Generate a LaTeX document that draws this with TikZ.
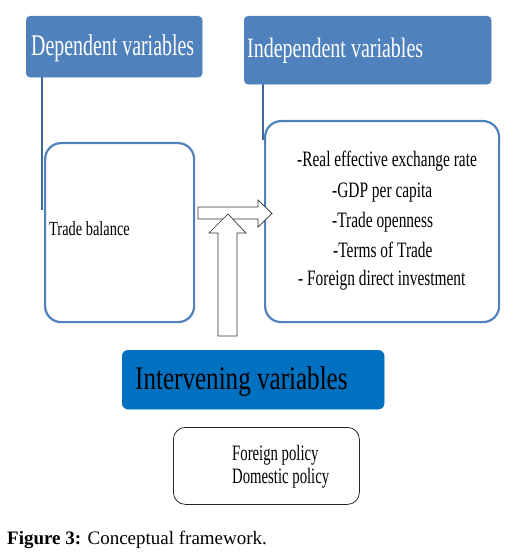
\documentclass[tikz,border=0pt]{standalone}
\usepackage{fontspec}
\setmainfont{Liberation Serif}
\definecolor{topblue}{HTML}{4F81BD}
\definecolor{lineblue}{HTML}{40689A}
\definecolor{frameblue}{HTML}{4F81BD}
\definecolor{intblue}{HTML}{0070C0}
\newcommand{\tx}[3]{\scalebox{#2}[1]{\fontsize{#1}{#1}\selectfont #3}}
\begin{document}
\begin{tikzpicture}[x=1pt, y=-1pt,
  headbox/.style={fill=topblue, draw=topblue, rounded corners=4pt, anchor=north west, inner sep=0pt},
  framebox/.style={draw=frameblue, line width=2.2pt, rounded corners=16pt, anchor=north west, inner sep=0pt},
  intbox/.style={fill=intblue, draw=intblue, rounded corners=6pt, anchor=north west, inner sep=0pt},
  polbox/.style={draw=black!85, line width=0.8pt, rounded corners=12pt, anchor=north west, inner sep=0pt},
  lbl/.style={anchor=base west, inner sep=0pt},
  connector/.style={draw=lineblue, line width=1.6pt},
  blockarrow/.style={draw=black!80, fill=white, line width=0.7pt}]
\useasboundingbox (0,0) rectangle (513,553);

% boxes
\node[headbox, minimum width=176pt, minimum height=61pt] (dep) at (26,16) {};
\node[headbox, minimum width=247pt, minimum height=68pt] (ind) at (244,16) {};
\node[framebox, minimum width=149pt, minimum height=179pt] (trade) at (44,142) {};
\node[framebox, minimum width=234pt, minimum height=201pt] (vars) at (264,120) {};
\node[intbox, minimum width=262pt, minimum height=59pt] (int) at (122,350) {};
\node[polbox, minimum width=186pt, minimum height=77pt] (pol) at (173,427) {};

% connectors from header boxes
\coordinate (depEnd) at (42,210);
\coordinate (indEnd) at (263,140);
\draw[connector] (dep.south -| depEnd) -- (depEnd);
\draw[connector] (ind.south -| indEnd) -- (indEnd);

% block arrows
\draw[blockarrow] (198,207) -- (258,207) -- (258,200) -- (272,213.5) -- (258,227) -- (258,219) -- (198,219) -- cycle;
\draw[blockarrow] (218,336) -- (218,233) -- (209,233) -- (228,214) -- (246,233) -- (237,233) -- (237,336) -- cycle;

% texts
\node[lbl, text=white] (depT) at (31,55.7) {\tx{30}{0.663}{Dependent variables}};
\node[lbl, text=white] (indT) at (247,57.3) {\tx{28}{0.714}{Independent variables}};
\node[lbl] (tradeT) at (49,235.7) {\tx{20}{0.72}{Trade balance}};
\node[lbl] (v1) at (297,166.5) {\tx{22}{0.70}{-Real effective exchange rate}};
\node[lbl] (v2) at (332,197) {\tx{22}{0.70}{-GDP per capita}};
\node[lbl] (v3) at (332,227) {\tx{22}{0.70}{-Trade openness}};
\node[lbl] (v4) at (333,257) {\tx{22}{0.70}{-Terms of Trade}};
\node[lbl] (v5) at (298,285) {\tx{22}{0.70}{- Foreign direct investment}};
\node[lbl] (intT) at (135,389.3) {\tx{33}{0.76}{Intervening variables}};
\node[lbl] (p1) at (232,460) {\tx{22}{0.67}{Foreign policy}};
\node[lbl] (p2) at (232,483) {\tx{22}{0.67}{Domestic policy}};
\node[lbl] (cap) at (7,544) {\fontsize{19}{19}\selectfont\textbf{Figure 3:} Conceptual framework.};
\end{tikzpicture}
\end{document}
